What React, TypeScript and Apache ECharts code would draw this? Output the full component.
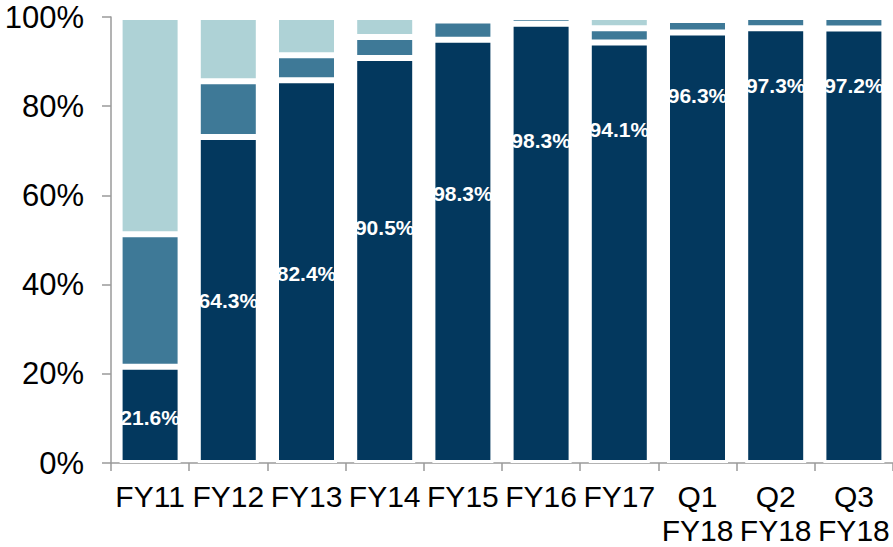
import React, { useEffect, useRef } from "react";
import * as echarts from "echarts";

const categories = ["FY11", "FY12", "FY13", "FY14", "FY15", "FY16", "FY17", "Q1\nFY18", "Q2\nFY18", "Q3\nFY18"];
// segment shares (% of total)
const darkShare = [21.6, 73.1, 85.8, 90.8, 94.9, 98.5, 94.3, 96.5, 97.5, 97.4];
const midShare = [29.7, 12.5, 5.6, 4.7, 4.3, 1.5, 3.2, 2.8, 2.5, 2.6];
const lightShare = [48.7, 14.4, 8.6, 4.5, 0.8, 0, 2.5, 0.7, 0, 0];
// printed data labels and the value level at which each one sits
const labelValues = [21.6, 64.3, 82.4, 90.5, 98.3, 98.3, 94.1, 96.3, 97.3, 97.2];
const labelLevel = [10.3, 36.4, 42.6, 52.9, 60.4, 72.3, 74.8, 82.5, 84.7, 84.7];
const yTicks = [0, 20, 40, 60, 80, 100];

const FONT = "'Liberation Sans', Arial, sans-serif";

export default function App() {
  const ref = useRef<HTMLDivElement>(null);
  useEffect(() => {
    document.body.style.margin = "0";
    if (!ref.current) return;
    const chart = echarts.init(ref.current, undefined, { renderer: "svg" });
    const seg = (name: string, data: number[], color: string) => ({
      name,
      type: "bar",
      stack: "total",
      data,
      barWidth: 61,
      itemStyle: { color, borderColor: "#ffffff", borderWidth: 3 },
      emphasis: { disabled: true },
    });
    chart.setOption({
      animation: false,
      grid: { left: 111, top: 17, width: 785, height: 448, containLabel: false },
      xAxis: {
        type: "category",
        data: categories,
        axisLine: { lineStyle: { color: "#9a9a9a", width: 1.5 } },
        axisTick: { show: true, length: 8, alignWithLabel: false, lineStyle: { color: "#9a9a9a", width: 1.5 } },
        axisLabel: {
          interval: 0,
          color: "#000000",
          fontSize: 30,
          lineHeight: 34,
          fontFamily: FONT,
          margin: 16,
        },
      },
      yAxis: {
        type: "value",
        min: yTicks[0],
        max: yTicks[yTicks.length - 1],
        interval: 20,
        axisLine: { show: true, lineStyle: { color: "#9a9a9a", width: 1.5 } },
        axisTick: { show: true, length: 9, lineStyle: { color: "#9a9a9a", width: 1.5 } },
        splitLine: { show: false },
        axisLabel: {
          formatter: "{value}%",
          color: "#000000",
          fontSize: 31,
          fontFamily: FONT,
          margin: 27,
        },
      },
      series: [
        seg("dark", darkShare, "#03385e"),
        seg("mid", midShare, "#3e7997"),
        seg("light", lightShare, "#aed2d6"),
        {
          type: "scatter",
          data: labelLevel.map((y, i) => [categories[i], y]),
          symbolSize: 1,
          itemStyle: { color: "rgba(0,0,0,0)", opacity: 1 },
          z: 10,
          label: {
            show: true,
            position: "inside",
            formatter: (p: any) => labelValues[p.dataIndex].toFixed(1) + "%",
            color: "#ffffff",
            opacity: 1,
            textBorderWidth: 0,
            fontSize: 21,
            fontWeight: "bold",
            fontFamily: FONT,
          },
          emphasis: { disabled: true },
        },
      ],
    });
    return () => chart.dispose();
  }, []);
  return <div ref={ref} style={{ width: 893, height: 547 }} />;
}
